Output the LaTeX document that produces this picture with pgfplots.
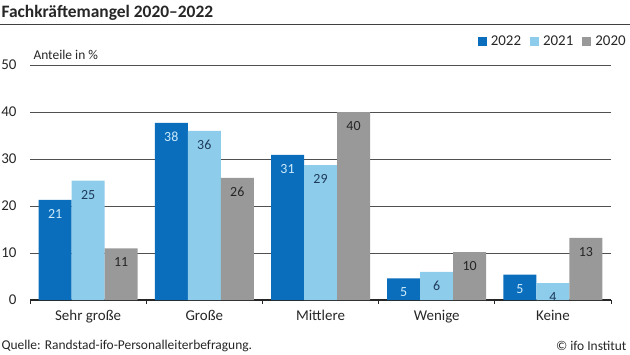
\documentclass[border=0pt]{standalone}
\usepackage{pgfplots}
\pgfplotsset{compat=1.18}
\usepackage{fontspec}
\setmainfont{Carlito}
\definecolor{cA}{HTML}{0A6EBD}
\definecolor{cB}{HTML}{8DCDEB}
\definecolor{cC}{HTML}{999999}
\definecolor{lA}{HTML}{CDEBFA}
\definecolor{lB}{HTML}{1F3A5A}
\definecolor{lC}{HTML}{262626}
\definecolor{gridc}{HTML}{505050}
\begin{document}
\begin{tikzpicture}[x=1bp,y=1bp]
\useasboundingbox (0,0) rectangle (630,354);
\node[anchor=west,font=\bfseries\fontsize{17.5}{20}\selectfont,text=black!85] at (-2,341) {Fachkräftemangel 2020–2022};
\draw[black!75,line width=1bp] (0,329) -- (630,329);
\begin{axis}[
  at={(30bp,54bp)}, anchor=south west,
  scale only axis, width=581bp, height=235bp,
  xmin=-0.5, xmax=4.5, ymin=0, ymax=50,
  ybar=0pt, bar width=33bp,
  axis x line*=bottom, axis y line*=left,
  x axis line style={black!85,line width=1.1bp},
  y axis line style={draw=none},
  xtick={0,1,2,3,4},
  xticklabels={Sehr große,Große,Mittlere,Wenige,Keine},
  minor xtick={-0.5,0.5,1.5,2.5,3.5,4.5},
  major tick length=0pt, minor tick length=4bp,
  tick align=outside,
  minor tick style={black!85,line width=0.8bp},
  ytick={0,10,20,30,40,50},
  ymajorgrids, grid style={gridc,line width=0.9bp},
  ticklabel style={font=\fontsize{15}{17}\selectfont,text=black!85},
  /pgf/number format/assume math mode=true,
  yticklabel style={xshift=-10bp},
  xticklabel style={yshift=-7bp},
  nodes near coords={\pgfmathprintnumber[fixed,precision=0]{\pgfplotspointmeta}},
  nodes near coords style={anchor=north,yshift=-6bp,font=\fontsize{14}{16}\selectfont},
  legend columns=3,
  legend style={at={(1.029,1.134)},anchor=north east,draw=none,fill=none,
    font=\fontsize{15}{17}\selectfont,text=black!85,
    /tikz/every odd column/.append style={column sep=2bp},
    /tikz/every even column/.append style={column sep=7bp},inner sep=0pt},
  legend image code/.code={\path[#1,draw=none] (0bp,-4.5bp) rectangle (9bp,4.5bp);},
  clip=false,
]
\addplot[fill=cA,draw=none,every node near coord/.append style={text=lA}] coordinates {(0,21.3) (1,37.7) (2,30.9) (3,4.6) (4,5.4)};
\addplot[fill=cB,draw=none,every node near coord/.append style={text=lB}] coordinates {(0,25.4) (1,36.0) (2,28.7) (3,6.0) (4,3.6)};
\addplot[fill=cC,draw=none,every node near coord/.append style={text=lC}] coordinates {(0,11.0) (1,26.0) (2,40.0) (3,10.2) (4,13.2)};
\legend{2022,2021,2020}
\end{axis}
\node[anchor=west,font=\fontsize{13.5}{15}\selectfont,text=black!85] at (30,299) {Anteile in \%};
\node[anchor=west,font=\fontsize{13.5}{15}\selectfont,text=black!85] at (-2,8) {Quelle: Randstad-ifo-Personalleiterbefragung.};
\node[anchor=east,font=\fontsize{13.5}{15}\selectfont,text=black!85] at (630,8) {© ifo Institut};
\end{tikzpicture}
\end{document}
